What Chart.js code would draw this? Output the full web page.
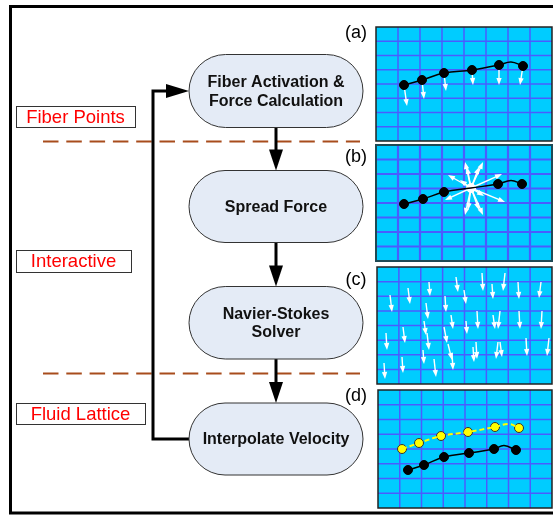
<!DOCTYPE html>
<html>
<head>
<meta charset="utf-8">
<script src="https://cdn.jsdelivr.net/npm/chart.js@4/dist/chart.umd.min.js"></script>
<style>
  html, body { margin: 0; padding: 0; background: #fff; }
  #wrap { width: 553px; height: 515px; }
</style>
</head>
<body>
<div id="wrap"><canvas id="myChart" width="553" height="515"></canvas></div>
<script>
// diagram coordinates (0..553 x 0..515, y going down)
const panelRects = [[376, 27, 552, 141], [376, 145, 552, 261], [377, 267, 552, 384], [378, 390, 552, 508]];
const panelTags = ["(a)", "(b)", "(c)", "(d)"];
const tagPos = [[356, 33], [356, 157], [356, 280], [356, 396]];

// fiber points
const fiberA = [[404, 85], [422, 80], [444, 73], [472, 70], [499, 65], [523, 66]];
const bumpA = [511, 62];
const forceTipsA = [[407, 106], [424, 99], [446, 91], [473, 85], [499, 85], [520, 85]];

const fiberB = [[404, 204], [423, 199], [444, 192], [471, 188], [498, 184], [522, 184]];
const bumpB = [511, 180.5];
const starCenter = [471, 188];
const starTips = [[465, 162], [483, 162], [448, 175], [502, 174], [445, 200], [505, 202],
  [465, 215], [483, 215], [467, 167], [479, 167], [468, 210], [479, 210], [460, 180], [484, 196]];

// fluid velocity arrows [x0, y0, x1, y1]
const velArrows = [
  [390, 295, 392, 312], [408, 288, 410, 304], [429, 282, 430, 296], [456, 277, 458, 292],
  [482, 273, 483, 291], [505, 273, 503, 291], [492, 284, 493, 299], [464, 290, 466, 304],
  [445, 296, 446, 312], [426, 303, 428, 319], [518, 282, 519, 299], [541, 282, 539, 298],
  [477, 311, 478, 329], [451, 315, 453, 329], [424, 321, 426, 335], [466, 321, 467, 334],
  [493, 315, 495, 329], [500, 311, 498, 329], [519, 311, 520, 329], [542, 311, 541, 329],
  [403, 327, 405, 343], [386, 333, 387, 350], [444, 327, 447, 343], [427, 333, 429, 350],
  [448, 344, 452, 360], [423, 350, 424, 364], [473, 347, 474, 362], [476, 342, 477, 359],
  [498, 342, 496, 359], [500, 342, 502, 357], [526, 338, 527, 356], [549, 338, 547, 356],
  [384, 363, 385, 379], [402, 357, 403, 373], [434, 359, 436, 377], [452, 353, 453, 370]
];

const fiberOld = [[408, 470], [424, 465], [444, 457], [469, 453], [494, 449], [516, 450]];
const bumpOld = [504, 445.5];
const fiberNew = [[402, 449], [419, 443], [441, 436], [468, 432], [495, 427], [519, 428]];
const bumpNew = [509, 424];

// flow chart
const stepBoxes = [[189, 54.5, 363, 127.5], [189, 170.5, 363, 242.5], [189, 286.5, 363, 359], [189, 403, 363, 475]];
const stepText = [["Fiber Activation &", "Force Calculation"], ["Spread Force"], ["Navier-Stokes", "Solver"], ["Interpolate Velocity"]];
const flowX = 276;
const loopPath = [[189, 439], [153, 439], [153, 91], [189, 91]];

const layerNames = ["Fiber Points", "Interactive", "Fluid Lattice"];
const layerBoxes = [[16, 106, 135, 127], [16, 250, 131, 272], [16, 403, 145, 424]];
const dashRows = [141.5, 373.5];
const dashSpan = [43, 360];

function withBump(pts, bump) {
  const out = pts.slice(0, 5).concat([bump], pts.slice(5));
  return out.map(p => ({ x: p[0], y: p[1] }));
}
function asXY(pts) { return pts.map(p => ({ x: p[0], y: p[1] })); }

const diagram = {
  id: "diagram",
  beforeDatasetsDraw(chart) {
    const c = chart.ctx;
    const sx = chart.scales.x, sy = chart.scales.y;
    const X = v => sx.getPixelForValue(v);
    const Y = v => sy.getPixelForValue(v);
    c.save();

    // outer frame
    c.strokeStyle = "#000";
    c.lineWidth = 3;
    c.beginPath();
    c.moveTo(X(560), Y(6.5)); c.lineTo(X(10.5), Y(6.5)); c.lineTo(X(10.5), Y(513)); c.lineTo(X(560), Y(513));
    c.stroke();

    // panels with lattice
    panelRects.forEach((r, i) => {
      const x0 = X(r[0]), y0 = Y(r[1]), x1 = X(r[2]), y1 = Y(r[3]);
      c.fillStyle = "#00CCFF";
      c.fillRect(x0, y0, x1 - x0, y1 - y0);
      c.strokeStyle = "#4A5CFF";
      c.lineWidth = i === 1 ? 2.2 : 1.5;
      c.beginPath();
      for (let k = 1; k < 8; k++) {
        const gx = x0 + (x1 - x0) * k / 8;
        const gy = y0 + (y1 - y0) * k / 8;
        c.moveTo(gx, y0); c.lineTo(gx, y1);
        c.moveTo(x0, gy); c.lineTo(x1, gy);
      }
      c.stroke();
      c.strokeStyle = i === 1 ? "#1E4A55" : "#222";
      c.lineWidth = i === 1 ? 2 : 1.5;
      c.strokeRect(x0, y0, x1 - x0, y1 - y0);
    });

    // panel tags
    c.fillStyle = "#000";
    c.font = "18px 'Liberation Sans', Arial, sans-serif";
    c.textAlign = "center";
    c.textBaseline = "middle";
    panelTags.forEach((t, i) => c.fillText(t, X(tagPos[i][0]), Y(tagPos[i][1])));

    // white arrows
    function arrow(ax, ay, bx, by, lw, head, col) {
      const x0 = X(ax), y0 = Y(ay), x1 = X(bx), y1 = Y(by);
      const a = Math.atan2(y1 - y0, x1 - x0);
      const w = head * 0.38;
      c.strokeStyle = col; c.fillStyle = col; c.lineWidth = lw;
      c.beginPath();
      c.moveTo(x0, y0);
      c.lineTo(x1 - Math.cos(a) * head * 0.8, y1 - Math.sin(a) * head * 0.8);
      c.stroke();
      c.beginPath();
      c.moveTo(x1, y1);
      c.lineTo(x1 - Math.cos(a) * head + Math.sin(a) * w, y1 - Math.sin(a) * head - Math.cos(a) * w);
      c.lineTo(x1 - Math.cos(a) * head - Math.sin(a) * w, y1 - Math.sin(a) * head + Math.cos(a) * w);
      c.closePath();
      c.fill();
    }
    fiberA.forEach((p, i) => arrow(p[0], p[1], forceTipsA[i][0], forceTipsA[i][1], 1.4, 7, "#fff"));
    starTips.forEach(t => arrow(starCenter[0], starCenter[1], t[0], t[1], 1.4, 7, "#fff"));
    velArrows.forEach(a => arrow(a[0], a[1], a[2], a[3], 1.4, 7, "#fff"));

    // dashed layer separators
    c.strokeStyle = "#A84C1C";
    c.lineWidth = 2;
    c.setLineDash([15.5, 7.8]);
    dashRows.forEach(y => {
      c.beginPath();
      c.moveTo(X(dashSpan[0]), Y(y)); c.lineTo(X(dashSpan[1]), Y(y));
      c.stroke();
    });
    c.setLineDash([]);

    // layer name boxes
    c.font = "18.5px 'Liberation Sans', Arial, sans-serif";
    layerBoxes.forEach((b, i) => {
      const x0 = X(b[0]), y0 = Y(b[1]), x1 = X(b[2]), y1 = Y(b[3]);
      c.fillStyle = "#fff";
      c.fillRect(x0, y0, x1 - x0, y1 - y0);
      c.strokeStyle = "#333"; c.lineWidth = 1;
      c.strokeRect(x0 + 0.5, y0 + 0.5, x1 - x0, y1 - y0);
      c.fillStyle = "#FF0000";
      c.fillText(layerNames[i], (x0 + x1) / 2, (y0 + y1) / 2 + 1);
    });

    // flow connectors
    c.strokeStyle = "#000"; c.fillStyle = "#000"; c.lineWidth = 3;
    c.lineJoin = "miter";
    c.beginPath();
    c.moveTo(X(loopPath[0][0]), Y(loopPath[0][1]));
    for (let k = 1; k < loopPath.length - 1; k++) c.lineTo(X(loopPath[k][0]), Y(loopPath[k][1]));
    c.lineTo(X(loopPath[3][0] - 20), Y(loopPath[3][1]));
    c.stroke();
    c.beginPath();
    c.moveTo(X(loopPath[3][0]), Y(loopPath[3][1]));
    c.lineTo(X(loopPath[3][0] - 23), Y(loopPath[3][1] - 7));
    c.lineTo(X(loopPath[3][0] - 23), Y(loopPath[3][1] + 7));
    c.closePath(); c.fill();
    for (let k = 0; k < stepBoxes.length - 1; k++) {
      const yTop = stepBoxes[k][3], yBot = stepBoxes[k + 1][1];
      c.beginPath();
      c.moveTo(X(flowX), Y(yTop)); c.lineTo(X(flowX), Y(yBot - 18));
      c.stroke();
      c.beginPath();
      c.moveTo(X(flowX), Y(yBot));
      c.lineTo(X(flowX - 7), Y(yBot - 21));
      c.lineTo(X(flowX + 7), Y(yBot - 21));
      c.closePath(); c.fill();
    }

    // step boxes
    stepBoxes.forEach((b, i) => {
      const x0 = X(b[0]), y0 = Y(b[1]), x1 = X(b[2]), y1 = Y(b[3]);
      const r = (y1 - y0) / 2;
      c.beginPath();
      c.moveTo(x0 + r, y0);
      c.lineTo(x1 - r, y0);
      c.arc(x1 - r, y0 + r, r, -Math.PI / 2, Math.PI / 2);
      c.lineTo(x0 + r, y1);
      c.arc(x0 + r, y0 + r, r, Math.PI / 2, Math.PI * 1.5);
      c.closePath();
      c.fillStyle = "#E4EBF6";
      c.fill();
      c.strokeStyle = "#333"; c.lineWidth = 1;
      c.stroke();
      c.fillStyle = "#111";
      c.font = "bold 16px 'Liberation Sans', Arial, sans-serif";
      const lines = stepText[i];
      const cy = (y0 + y1) / 2, lh = 18.5;
      lines.forEach((t, j) => c.fillText(t, (x0 + x1) / 2, cy + (j - (lines.length - 1) / 2) * lh + 1));
    });

    c.restore();
  }
};

const dotStyle = { showLine: false, pointRadius: 4.5, pointHoverRadius: 4.5, pointBackgroundColor: "#000", pointBorderColor: "#000", pointBorderWidth: 1 };
const curveStyle = { showLine: true, pointRadius: 0, borderColor: "#000", borderWidth: 1.5, tension: 0.4, fill: false };

new Chart(document.getElementById("myChart"), {
  type: "scatter",
  data: {
    datasets: [
      Object.assign({ data: withBump(fiberA, bumpA) }, curveStyle),
      Object.assign({ data: withBump(fiberB, bumpB) }, curveStyle),
      Object.assign({ data: withBump(fiberOld, bumpOld) }, curveStyle),
      Object.assign({ data: withBump(fiberNew, bumpNew) }, curveStyle, { borderColor: "#FFFF00", borderWidth: 2, borderDash: [5, 3] }),
      Object.assign({ data: asXY(fiberA) }, dotStyle),
      Object.assign({ data: asXY(fiberB.filter((p, i) => i !== 3)) }, dotStyle),
      Object.assign({ data: asXY([starCenter]) }, dotStyle, { pointBackgroundColor: "#fff", pointBorderColor: "#fff" }),
      Object.assign({ data: asXY(fiberOld) }, dotStyle),
      Object.assign({ data: asXY(fiberNew) }, dotStyle, { pointBackgroundColor: "#FFFF00", pointBorderColor: "#333", pointRadius: 4.5 })
    ]
  },
  options: {
    responsive: false,
    animation: false,
    events: [],
    layout: { padding: 0, autoPadding: false },
    plugins: { legend: { display: false }, tooltip: { enabled: false } },
    scales: {
      x: { type: "linear", min: 0, max: 553, display: false },
      y: { type: "linear", min: 0, max: 515, reverse: true, display: false }
    }
  },
  plugins: [diagram]
});
</script>
</body>
</html>
